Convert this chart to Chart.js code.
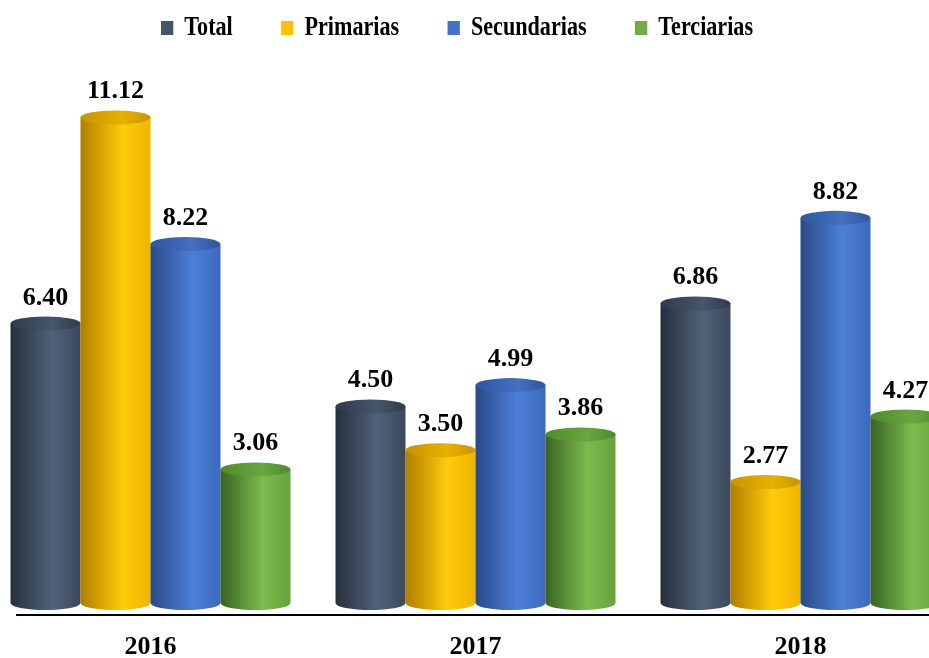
<!DOCTYPE html>
<html>
<head>
<meta charset="utf-8">
<script src="https://cdn.jsdelivr.net/npm/chart.js@4/dist/chart.umd.min.js"></script>
<style>
html,body{margin:0;padding:0;background:#fff;overflow:hidden;width:929px;height:658px;}
#wrap{position:absolute;left:-12px;top:0;width:975px;height:658px;}
</style>
</head>
<body>
<div id="wrap"><canvas id="c" width="975" height="658"></canvas></div>
<script>
const categories = ['2016', '2017', '2018'];
const seriesNames = ['Total', 'Primarias', 'Secundarias', 'Terciarias'];
const totalValues = [6.40, 4.50, 6.86];
const primariasValues = [11.12, 3.50, 2.77];
const secundariasValues = [8.22, 4.99, 8.82];
const terciariasValues = [3.06, 3.86, 4.27];

const baseColors = ['#44546A', '#FFC000', '#4472C4', '#70AD47'];
const shades = [
  {l:'#262f3c', m:'#52627a', r:'#3c495c', t1:'#2f3a4a', t2:'#47566c'},
  {l:'#b07e00', m:'#ffcb0a', r:'#efb500', t1:'#c89400', t2:'#e8b000'},
  {l:'#2a4a87', m:'#4d7fd8', r:'#3d69bb', t1:'#2f569e', t2:'#4470c0'},
  {l:'#3a6322', m:'#7cbc4e', r:'#66a23d', t1:'#4e8a2c', t2:'#68a83e'}
];
const serif = "'Liberation Serif','Times New Roman',serif";

const legendSqueeze = {
  id: 'legendSqueeze',
  beforeDraw(chart) {
    const lg = chart.legend;
    if (!lg || lg._squeezed) return;
    const orig = lg.draw;
    lg.draw = function () {
      const ctx = chart.ctx;
      const P = 384.7, k = 0.82;
      ctx.save();
      ctx.translate(P, 0);
      ctx.scale(k, 1);
      ctx.translate(-P, 0);
      orig.apply(this, arguments);
      ctx.restore();
    };
    lg._squeezed = true;
  }
};

const cylinderPlugin = {
  id: 'cyl',
  afterDatasetsDraw(chart) {
    const ctx = chart.ctx;
    const ry = 7;
    chart.data.datasets.forEach((ds, di) => {
      const meta = chart.getDatasetMeta(di);
      const s = shades[di];
      meta.data.forEach((bar, i) => {
        const w = bar.width;
        const x0 = bar.x - w / 2, x1 = bar.x + w / 2;
        const top = bar.y, base = bar.base;
        const g = ctx.createLinearGradient(x0, 0, x1, 0);
        g.addColorStop(0, s.l);
        g.addColorStop(0.6, s.m);
        g.addColorStop(1, s.r);
        ctx.save();
        ctx.fillStyle = g;
        ctx.beginPath();
        ctx.moveTo(x0, top);
        ctx.lineTo(x0, base);
        ctx.ellipse(bar.x, base, w / 2, ry, 0, Math.PI, 0, true);
        ctx.lineTo(x1, top);
        ctx.closePath();
        ctx.fill();
        const gt = ctx.createLinearGradient(x0, 0, x1, 0);
        gt.addColorStop(0, s.t1);
        gt.addColorStop(0.6, s.t2);
        gt.addColorStop(1, s.t1);
        ctx.fillStyle = gt;
        ctx.beginPath();
        ctx.ellipse(bar.x, top, w / 2, ry, 0, 0, Math.PI * 2);
        ctx.fill();
        ctx.fillStyle = '#000';
        ctx.font = 'bold 26px ' + serif;
        ctx.textAlign = 'center';
        ctx.textBaseline = 'alphabetic';
        ctx.fillText(ds.data[i].toFixed(2), bar.x, top - 19);
        ctx.restore();
      });
    });
    const ca = chart.chartArea;
    ctx.save();
    ctx.strokeStyle = '#000';
    ctx.lineWidth = 2;
    ctx.beginPath();
    ctx.moveTo(28, ca.bottom);
    ctx.lineTo(975, ca.bottom);
    ctx.stroke();
    ctx.restore();
  }
};

const valuesList = [totalValues, primariasValues, secundariasValues, terciariasValues];
new Chart(document.getElementById('c'), {
  type: 'bar',
  data: {
    labels: categories,
    datasets: seriesNames.map((n, i) => ({
      label: n,
      data: valuesList[i],
      backgroundColor: 'rgba(0,0,0,0)',
      borderWidth: 0
    }))
  },
  options: {
    responsive: false,
    animation: false,
    layout: {padding: {top: -44.5, bottom: -21, left: 0, right: 0}},
    datasets: {bar: {categoryPercentage: 0.8615, barPercentage: 1}},
    plugins: {
      tooltip: {enabled: false},
      legend: {
        display: true,
        position: 'top',
        labels: {
          font: {family: serif, size: 27, weight: 'bold'},
          color: '#000',
          boxWidth: 15,
          boxHeight: 14,
          padding: 59,
          generateLabels(chart) {
            return chart.data.datasets.map((d, i) => ({
              text: d.label,
              fillStyle: baseColors[i],
              strokeStyle: baseColors[i],
              lineWidth: 0,
              datasetIndex: i,
              fontColor: '#000'
            }));
          }
        }
      }
    },
    scales: {
      x: {
        grid: {display: false, drawTicks: false},
        border: {display: false},
        ticks: {font: {family: serif, size: 26, weight: 'bold', lineHeight: 1}, color: '#000', padding: 19}
      },
      y: {
        display: false,
        min: -0.275,
        max: 12.63
      }
    }
  },
  plugins: [legendSqueeze, cylinderPlugin]
});
</script>
</body>
</html>
